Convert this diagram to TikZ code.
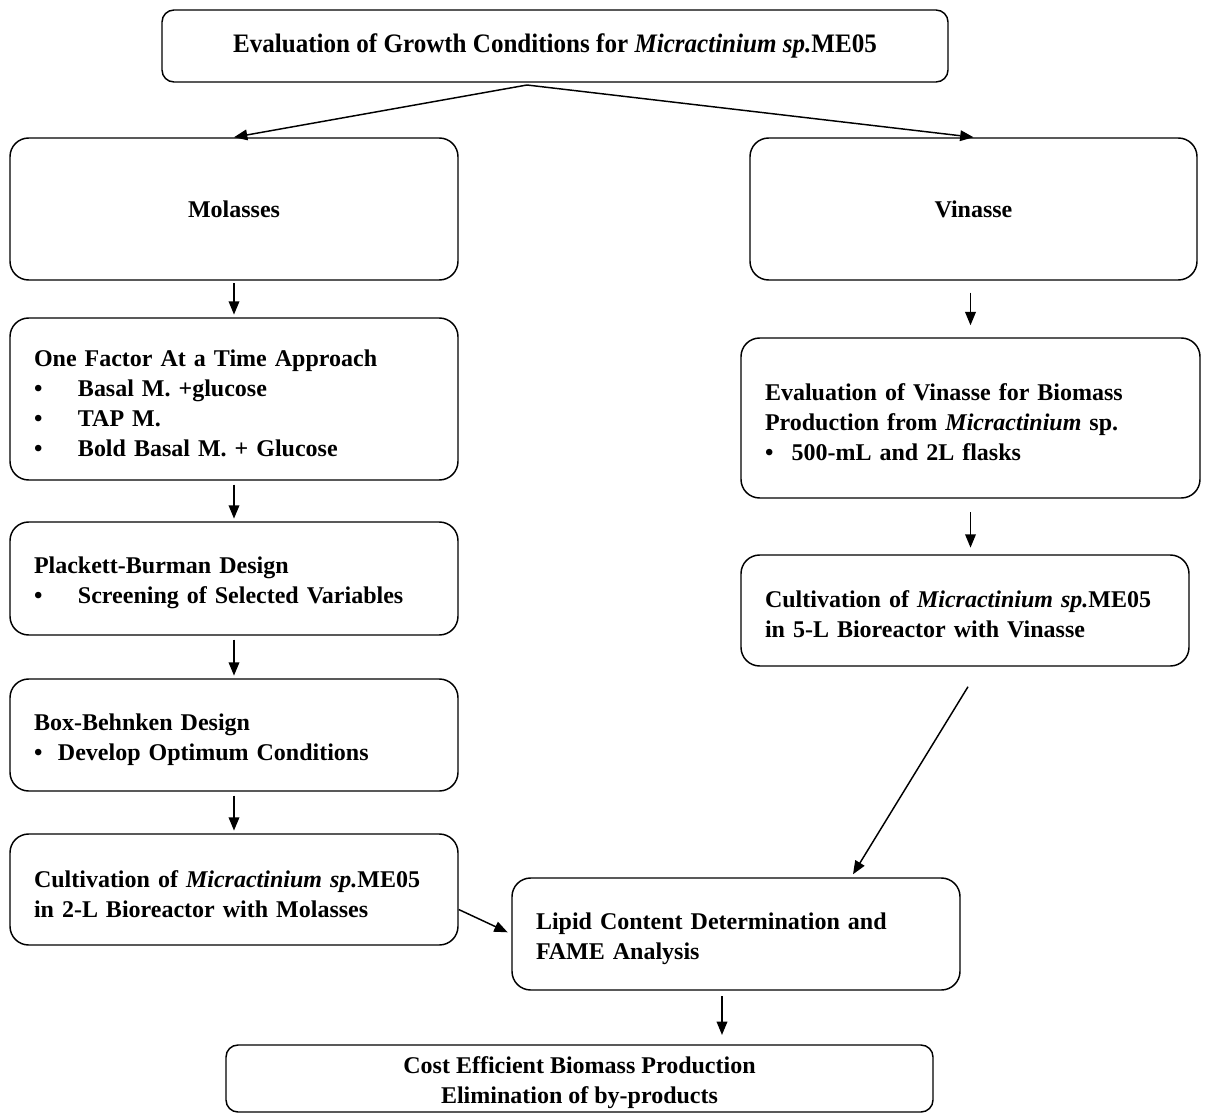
\documentclass[tikz,border=0pt]{standalone}
\usepackage{fontspec}
\setmainfont{Liberation Serif}
\usetikzlibrary{arrows.meta,calc}
\begin{document}
\begin{tikzpicture}[x=0.75pt,y=-0.75pt,
  txt/.style={font=\bfseries\fontsize{18}{22.5}\selectfont},
  box/.style={txt, draw, line width=1.1pt, rounded corners=14pt, inner ysep=0pt, inner xsep=18pt},
  lbox/.style={box, align=left, text width=300pt, minimum width=336pt},
  cbox/.style={box, align=center},
  arr/.style={line width=1.1pt, -{Triangle[length=10pt,width=8pt]}}]
\useasboundingbox (0,0) rectangle (1208,1113);
\newcommand{\bul}[1]{\makebox[#1][l]{\textbullet}}
\newcommand{\fl}{\rule{0pt}{19pt}}

\node[cbox, rounded corners=9pt, minimum width=589.5pt, minimum height=54pt] (top) at (555,46)
  {\fontsize{20}{24}\selectfont\scalebox{0.94}[1]{Evaluation of Growth Conditions for \textit{Micractinium sp.}ME05}};

\node[cbox, minimum width=336pt, minimum height=106.5pt] (mol) at (234,209) {Molasses};
\node[cbox, minimum width=335.25pt, minimum height=106.5pt] (vin) at (973.5,209) {Vinasse};

\node[lbox, minimum height=121.5pt] (ofat) at (234,399)
  {\fl One Factor At a Time Approach\\
   \bul{33pt}Basal M. +glucose\\
   \bul{33pt}TAP M.\\
   \bul{33pt}Bold Basal M. + Glucose};

\node[lbox, minimum height=84.75pt] (pb) at (234,578.5)
  {\fl Plackett-Burman Design\\
   \bul{33pt}Screening of Selected Variables};

\node[lbox, minimum height=84pt] (bb) at (234,735)
  {\fl Box-Behnken Design\\
   \bul{18pt}Develop Optimum Conditions};

\node[lbox, minimum height=83.25pt] (cm) at (234,889.5)
  {\fl Cultivation of \textit{Micractinium sp.}ME05\\
   in 2-L Bioreactor with Molasses};

\node[lbox, text width=308.25pt, minimum width=344.25pt, minimum height=120pt] (ev) at (970.5,418)
  {\fl Evaluation of Vinasse for Biomass\\
   Production from \textit{Micractinium} sp.\\
   \bul{20pt}500-mL and 2L flasks};

\node[lbox, minimum height=83.25pt] (cv) at (965,610.5)
  {\fl Cultivation of \textit{Micractinium sp.}ME05\\
   in 5-L Bioreactor with Vinasse};

\node[lbox, minimum height=84pt] (lip) at (736,934)
  {\fl Lipid Content Determination and\\
   FAME Analysis};

\node[cbox, minimum width=530.25pt, minimum height=50.25pt, rounded corners=9pt] (cost) at (579.5,1078.5)
  {\fl Cost Efficient Biomass Production\\
   Elimination of by-products};

\coordinate (split) at (527,85);
\draw[arr] (split) -- (mol.north);
\draw[arr] (split) -- (vin.north);

\draw[arr, shorten <=2pt, shorten >=2pt] (mol.south) -- (ofat.north);
\draw[arr, shorten <=3pt, shorten >=2pt] (ofat.south) -- (pb.north);
\draw[arr, shorten <=3pt, shorten >=2pt] (pb.south) -- (bb.north);
\draw[arr, shorten <=3pt, shorten >=2pt] (bb.south) -- (cm.north);

\draw[arr, shorten <=9pt, shorten >=9pt] (vin.south -| ev.north) -- (ev.north);
\draw[arr, shorten <=10pt, shorten >=5pt] (ev.south) -- (ev.south |- cv.north);
\draw[arr] ($(cv.south)+(3,20)$) coordinate (cvo) -- ($(lip.north)+(117,-3)$);
\draw[arr, shorten >=3pt] ($(cm.east)+(0,20)$) coordinate (cmo) -- (lip.west);
\draw[arr, shorten <=4pt, shorten >=7pt] ($(lip.south)+(-14,0)$) coordinate (lo) -- (lo |- cost.north);
\end{tikzpicture}
\end{document}
